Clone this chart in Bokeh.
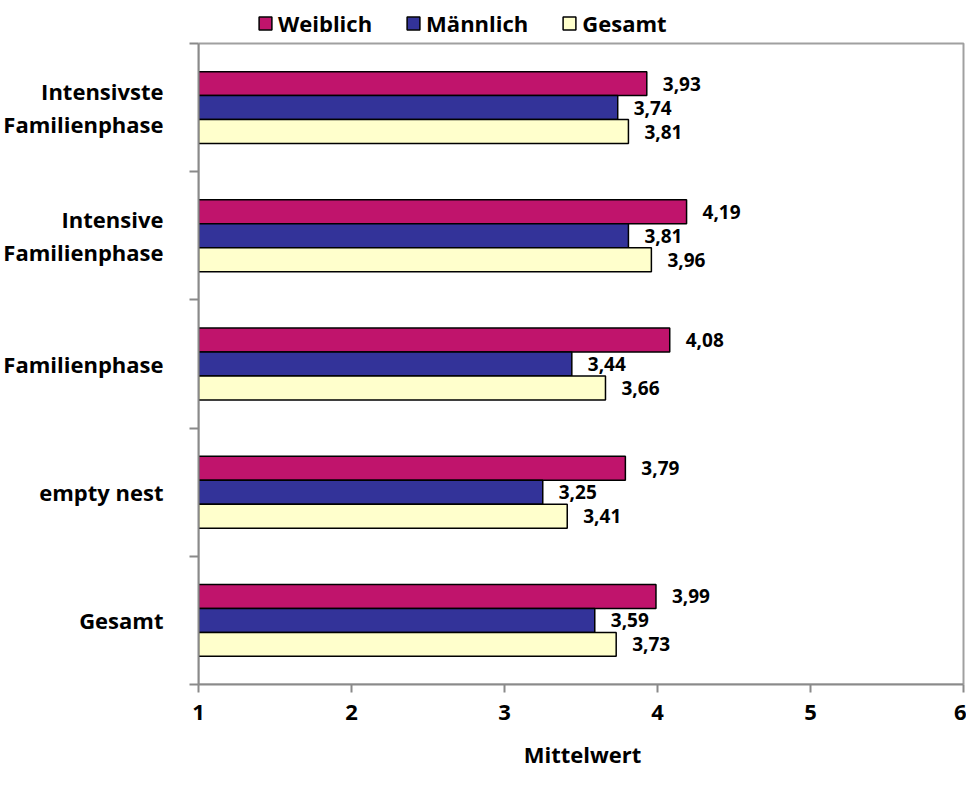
from bokeh.plotting import figure
from bokeh.models import ColumnDataSource, FixedTicker, Legend, LegendItem, Range1d
from bokeh.core.properties import value
from bokeh.embed import file_html
from bokeh.resources import INLINE

# ---- data (top to bottom) ----
categories = ["Intensivste\nFamilienphase", "Intensive\nFamilienphase", "Familienphase", "empty nest", "Gesamt"]
weiblich = [3.93, 4.19, 4.08, 3.79, 3.99]
maennlich = [3.74, 3.81, 3.44, 3.25, 3.59]
gesamt = [3.81, 3.96, 3.66, 3.41, 3.73]
series_names = ["Weiblich", "Männlich", "Gesamt"]
series_values = [weiblich, maennlich, gesamt]
series_colors = ["#C0146C", "#333399", "#FFFFCC"]
x_ticks = [1, 2, 3, 4, 5, 6]
x_label = "Mittelwert"

FONT = "Open Sans"
W, H = 966, 777
B_LEFT, B_RIGHT, B_BOTTOM = 198, 3, 93
PLOT_TOP = 43          # top edge of the bar area
FRAME_TOP = 2          # frame extends above it to hold the legend
n = len(categories)
centers = [n - i - 0.5 for i in range(n)]
bar_h = 0.187
offsets = [bar_h, 0.0, -bar_h]
x0, x1 = x_ticks[0], x_ticks[-1]
ppu_y = (H - PLOT_TOP - B_BOTTOM) / n
y_top = n + (PLOT_TOP - FRAME_TOP) / ppu_y
ppu_x = (W - B_LEFT - B_RIGHT) / (x1 - x0)
x_end = x1 + B_RIGHT / ppu_x

p = figure(width=W, height=H, output_backend="svg", toolbar_location=None,
           x_range=Range1d(x0, x_end), y_range=Range1d(0, y_top),
           min_border_left=B_LEFT, min_border_right=0,
           min_border_top=FRAME_TOP, min_border_bottom=B_BOTTOM)
p.xgrid.visible = False
p.ygrid.visible = False
p.outline_line_color = None
p.background_fill_color = "white"
p.border_fill_color = "white"

GRAY_LIGHT = "#a0a0a0"
GRAY = "#8a8a8a"
# plot-area border (drawn as an unfilled box beneath the bars)
p.hbar(y=[n / 2], left=[x0], right=[x1], height=[n], fill_color=None,
       line_color=GRAY_LIGHT, line_width=2)

items = []
for name, vals, col, off in zip(series_names, series_values, series_colors, offsets):
    ys = [c + off for c in centers]
    src = ColumnDataSource(dict(y=ys, right=vals,
                                lab=[f"{v:.2f}".replace(".", ",") for v in vals]))
    r = p.hbar(y="y", left=x0, right="right", height=bar_h, source=src,
               fill_color=col, line_color="black", line_width=1.5)
    p.text(x="right", y="y", text="lab", source=src, x_offset=16,
           text_baseline="middle", text_align="left",
           text_font=value(FONT), text_font_style="bold", text_font_size="19px",
           text_color="black")
    items.append(LegendItem(label=name, renderers=[r]))

# x axis
xa = p.xaxis[0]
xa.bounds = (x0, x1)
xa.ticker = FixedTicker(ticks=x_ticks, minor_ticks=[])
xa.axis_line_color = GRAY
xa.axis_line_width = 2
xa.major_tick_line_color = GRAY
xa.major_tick_line_width = 2
xa.major_tick_out = 8
xa.major_tick_in = 0
xa.minor_tick_line_color = None
xa.major_label_text_font = FONT
xa.major_label_text_font_style = "bold"
xa.major_label_text_font_size = "22px"
xa.major_label_text_color = "black"
xa.major_label_standoff = 12
xa.axis_label = x_label
xa.axis_label_text_font = FONT
xa.axis_label_text_font_style = "bold"
xa.axis_label_text_font_size = "22px"
xa.axis_label_text_color = "black"
xa.axis_label_standoff = 16

# y axis: category labels at band centres, tick marks at band boundaries
ya = p.yaxis[0]
ya.bounds = (0, n)
ya.ticker = FixedTicker(ticks=centers, minor_ticks=list(range(n + 1)))
ya.major_label_overrides = {c: lab for c, lab in zip(centers, categories)}
ya.axis_line_color = GRAY
ya.axis_line_width = 2
ya.major_tick_line_color = None
ya.major_tick_out = 0
ya.major_tick_in = 0
ya.minor_tick_line_color = GRAY
ya.minor_tick_line_width = 2
ya.minor_tick_out = 9
ya.minor_tick_in = 0
ya.major_label_text_font = FONT
ya.major_label_text_font_style = "bold"
ya.major_label_text_font_size = "22px"
ya.major_label_text_color = "black"
ya.major_label_text_line_height = 1.1
ya.major_label_standoff = 26

legend = Legend(items=items, orientation="horizontal", location=(59, 646),
                glyph_width=16, glyph_height=16, label_standoff=5, spacing=33,
                padding=0, margin=0, border_line_color=None, background_fill_alpha=0,
                label_text_font=FONT, label_text_font_style="bold", label_text_font_size="22px",
                label_text_color="black")
p.add_layout(legend, "center")

open("out.html", "w").write(file_html(p, INLINE))
